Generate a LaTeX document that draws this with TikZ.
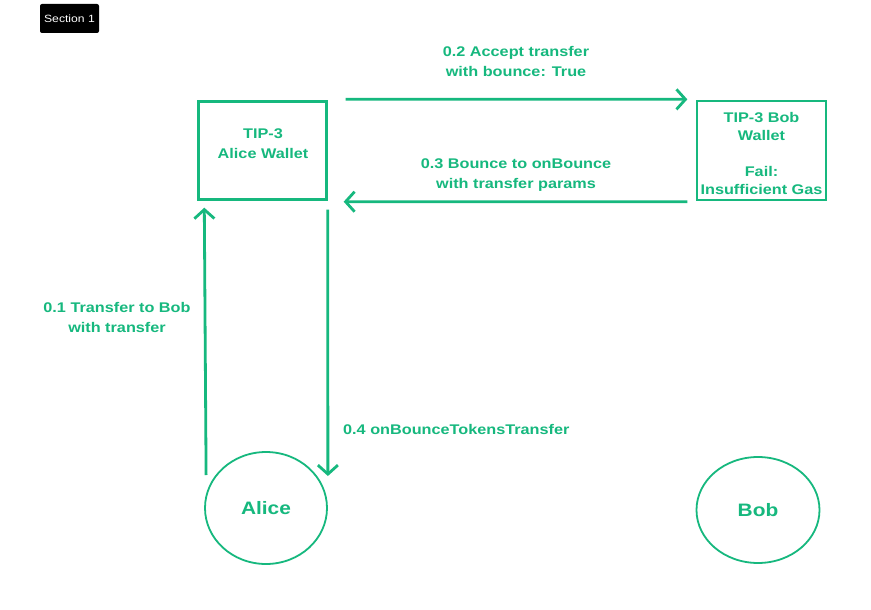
\documentclass[tikz,border=0pt]{standalone}
\usepackage{fontspec}
\setmainfont{Liberation Sans}[FakeStretch=1.16]
\usetikzlibrary{arrows.meta,calc,shapes.geometric}
\definecolor{grn}{RGB}{22,184,126}
\begin{document}
\begin{tikzpicture}[x=1pt,y=-1pt,
  lbl/.style={text=grn,font=\bfseries\fontsize{14}{20}\selectfont,align=center,inner sep=0pt},
  arr/.style={draw=grn,line width=2.8pt,-{Straight Barb[length=9pt,width=20pt]}},
  person/.style={ellipse,draw=grn,line width=1.8pt,inner sep=0pt,text=grn,font=\bfseries\fontsize{18}{20}\selectfont}]
\useasboundingbox[fill=white] (0,0) rectangle (871,610);
\node[fill=black,rounded corners=2pt,minimum width=59pt,minimum height=29pt,inner sep=0pt,text=white,font=\fontsize{10.5}{11}\selectfont] (sec) at (69.5,18.5) {Section 1};
\node[draw=grn,line width=2.4pt,minimum width=128pt,minimum height=98pt,inner sep=0pt] (aw) at (262.5,150.5) {};
\node[lbl] (awt) at (263,144) {TIP-3\\Alice Wallet};
\node[draw=grn,line width=1.3pt,minimum width=129pt,minimum height=99pt,inner sep=0pt] (bw) at (761.5,150.5) {};
\node[lbl,font=\bfseries\fontsize{14}{18}\selectfont] (bwt) at (761.5,153) {TIP-3 Bob\\Wallet\\[18pt]Fail:\\Insufficient Gas};
\node[person,minimum width=122pt,minimum height=112pt] (alice) at (266,508) {Alice};
\node[person,minimum width=123pt,minimum height=106pt] (bob) at (758,510) {Bob};
\draw[arr] ($(aw.north east)+(18,-1)$) -- ($(bw.north west)+(-9,-1)$);
\draw[arr] ($(bw.south west)+(-9,1)$) -- ($(aw.south east)+(16,1)$);
\draw[arr] ($(alice.west)+(2,-33)$) -- ($(aw.south west)+(7,7)$);
\draw[arr] ($(aw.south east)+(0,9)$) -- ($(alice.east)+(0,-32)$);
\node[lbl] (l2) at (516,61) {0.2 Accept transfer\\with bounce: True};
\node[lbl] (l3) at (516,175) {0.3 Bounce to onBounce\\with transfer params};
\node[lbl] (l1) at (117,317.5) {0.1 Transfer to Bob\\with transfer};
\node[lbl,anchor=west] (l4) at (343,429) {0.4 onBounceTokensTransfer};
\end{tikzpicture}
\end{document}
